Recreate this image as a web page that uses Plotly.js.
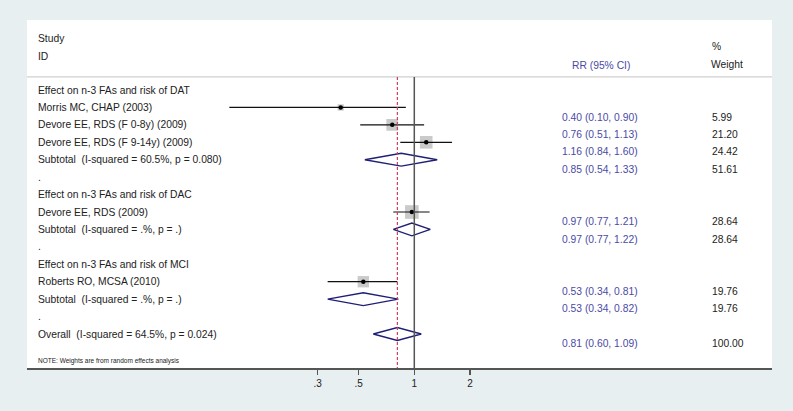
<!DOCTYPE html>
<html>
<head>
<meta charset="utf-8">
<script src="https://cdn.plot.ly/plotly-3.0.1.min.js"></script>
<style>html,body{margin:0;padding:0;background:#e8eff1;}#chart{width:793px;height:411px;}</style>
</head>
<body>
<div id="chart"></div>
<script>
// ---- data ----
const rowLabels = [
  "Effect on n-3 FAs and risk of DAT",
  "Morris MC, CHAP (2003)",
  "Devore EE, RDS (F 0-8y) (2009)",
  "Devore EE, RDS (F 9-14y) (2009)",
  "Subtotal  (I-squared = 60.5%, p = 0.080)",
  ".",
  "Effect on n-3 FAs and risk of DAC",
  "Devore EE, RDS (2009)",
  "Subtotal  (I-squared = .%, p = .)",
  ".",
  "Effect on n-3 FAs and risk of MCI",
  "Roberts RO, MCSA (2010)",
  "Subtotal  (I-squared = .%, p = .)",
  ".",
  "Overall  (I-squared = 64.5%, p = 0.024)"
];
const studyRows   = [1, 2, 3, 7, 11];
const studyRR     = [0.40, 0.76, 1.16, 0.97, 0.53];
const studyLo     = [0.10, 0.51, 0.84, 0.77, 0.34];
const studyHi     = [0.90, 1.13, 1.60, 1.21, 0.81];
const studyWeight = [5.99, 21.20, 24.42, 28.64, 19.76];

const poolRows   = [4, 8, 12, 14];
const poolRR     = [0.85, 0.97, 0.53, 0.81];
const poolLo     = [0.54, 0.77, 0.34, 0.60];
const poolHi     = [1.33, 1.22, 0.82, 1.09];
const poolWeight = [51.61, 28.64, 19.76, 100.00];

const tickVals = [0.3, 0.5, 1, 2];
const tickText = [".3", ".5", "1", "2"];
const noteText = "NOTE: Weights are from random effects analysis";

// ---- styling constants ----
const FONT = "Liberation Sans, Arial, Helvetica, sans-serif";
const FS = 10.3;
const RRCOL = "#4a4aa6";
const TXT = "#222222";
const diamondHalf = 0.37;
const textOffset = 0.55;
const overallRR = poolRR[poolRR.length - 1];

// ---- traces ----
const traces = [];
const ciX = [], ciY = [];
studyRows.forEach((r, i) => { ciX.push(studyLo[i], studyHi[i], null); ciY.push(r, r, null); });
traces.push({
  type: "scatter", mode: "markers", x: studyRR, y: studyRows,
  marker: {symbol: "square", color: "#b3b3b3", size: studyWeight.map(w => 2.55 * Math.sqrt(w)), line: {width: 0}},
  hoverinfo: "skip", showlegend: false
});
traces.push({
  type: "scatter", mode: "lines", x: ciX, y: ciY, connectgaps: false,
  line: {color: "#111111", width: 1.2}, hoverinfo: "skip", showlegend: false
});
traces.push({
  type: "scatter", mode: "markers", x: studyRR, y: studyRows,
  marker: {symbol: "circle", color: "#000000", size: 4.5}, hoverinfo: "skip", showlegend: false
});
const dX = [], dY = [];
poolRows.forEach((r, i) => {
  dX.push(poolLo[i], poolRR[i], poolHi[i], poolRR[i], poolLo[i], null);
  dY.push(r, r - diamondHalf, r, r + diamondHalf, r, null);
});
traces.push({
  type: "scatter", mode: "lines", x: dX, y: dY, connectgaps: false,
  line: {color: "#1f1f75", width: 1.4}, hoverinfo: "skip", showlegend: false
});

// ---- annotations ----
const ann = [];
const pxX = px => (px - 27) / 745;
function add(text, x, y, opts) {
  ann.push(Object.assign({text: text, x: x, y: y, xref: "paper", yref: "y", showarrow: false,
    xanchor: "left", yanchor: "middle", font: {family: FONT, size: FS, color: TXT}}, opts || {}));
}
rowLabels.forEach((t, r) => add(t.replace(/  /g, " \u00a0"), pxX(36), r));
add("Study", pxX(36), -2.93);
add("ID", pxX(36), -1.95);
add("%", pxX(710), -2.47);
add("Weight", pxX(709), -1.45);
add("RR (95% CI)", pxX(601), -1.43, {xanchor: "center", font: {family: FONT, size: FS, color: RRCOL}});
const fmt = v => v.toFixed(2);
studyRows.forEach((r, i) => {
  add(fmt(studyRR[i]) + " (" + fmt(studyLo[i]) + ", " + fmt(studyHi[i]) + ")", pxX(600), r + textOffset,
      {xanchor: "center", font: {family: FONT, size: FS, color: RRCOL}});
  add(fmt(studyWeight[i]), pxX(710), r + textOffset);
});
poolRows.forEach((r, i) => {
  add(fmt(poolRR[i]) + " (" + fmt(poolLo[i]) + ", " + fmt(poolHi[i]) + ")", pxX(600), r + textOffset,
      {xanchor: "center", font: {family: FONT, size: FS, color: RRCOL}});
  add(fmt(poolWeight[i]), pxX(710), r + textOffset);
});
add(noteText, pxX(36), 15.55, {font: {family: FONT, size: 6.5, color: TXT}});

// ---- shapes ----
const yTop = -0.75, yBottom = 15.95;
const shapes = [
  {type: "line", xref: "paper", yref: "y", x0: 0, x1: 1, y0: yTop, y1: yTop, line: {color: "#d0d0d0", width: 1.2}},
  {type: "line", xref: "x", yref: "y", x0: 1, x1: 1, y0: yTop, y1: yBottom, line: {color: "#555555", width: 1.5}},
  {type: "line", xref: "x", yref: "y", x0: overallRR, x1: overallRR, y0: yTop, y1: yBottom, line: {color: "#c8405e", width: 1.2, dash: "3px,2px"}}
];

const layout = {
  width: 793, height: 411,
  margin: {l: 27, r: 21, t: 20, b: 43, pad: 0},
  paper_bgcolor: "#e8eff1", plot_bgcolor: "#ffffff",
  showlegend: false,
  xaxis: {
    type: "log", range: [-2.094, 1.934], tickvals: tickVals, ticktext: tickText,
    showgrid: false, zeroline: false, showline: true, linecolor: "#555555", linewidth: 1.5,
    ticks: "outside", ticklen: 5, tickwidth: 1.2, tickcolor: "#555555",
    tickfont: {family: FONT, size: 10, color: TXT}, fixedrange: true
  },
  yaxis: {
    range: [yBottom, -4.016], showgrid: false, zeroline: false, showline: false,
    showticklabels: false, ticks: "", fixedrange: true
  },
  shapes: shapes,
  annotations: ann
};
Plotly.newPlot("chart", traces, layout, {displayModeBar: false, staticPlot: true});
</script>
</body>
</html>
